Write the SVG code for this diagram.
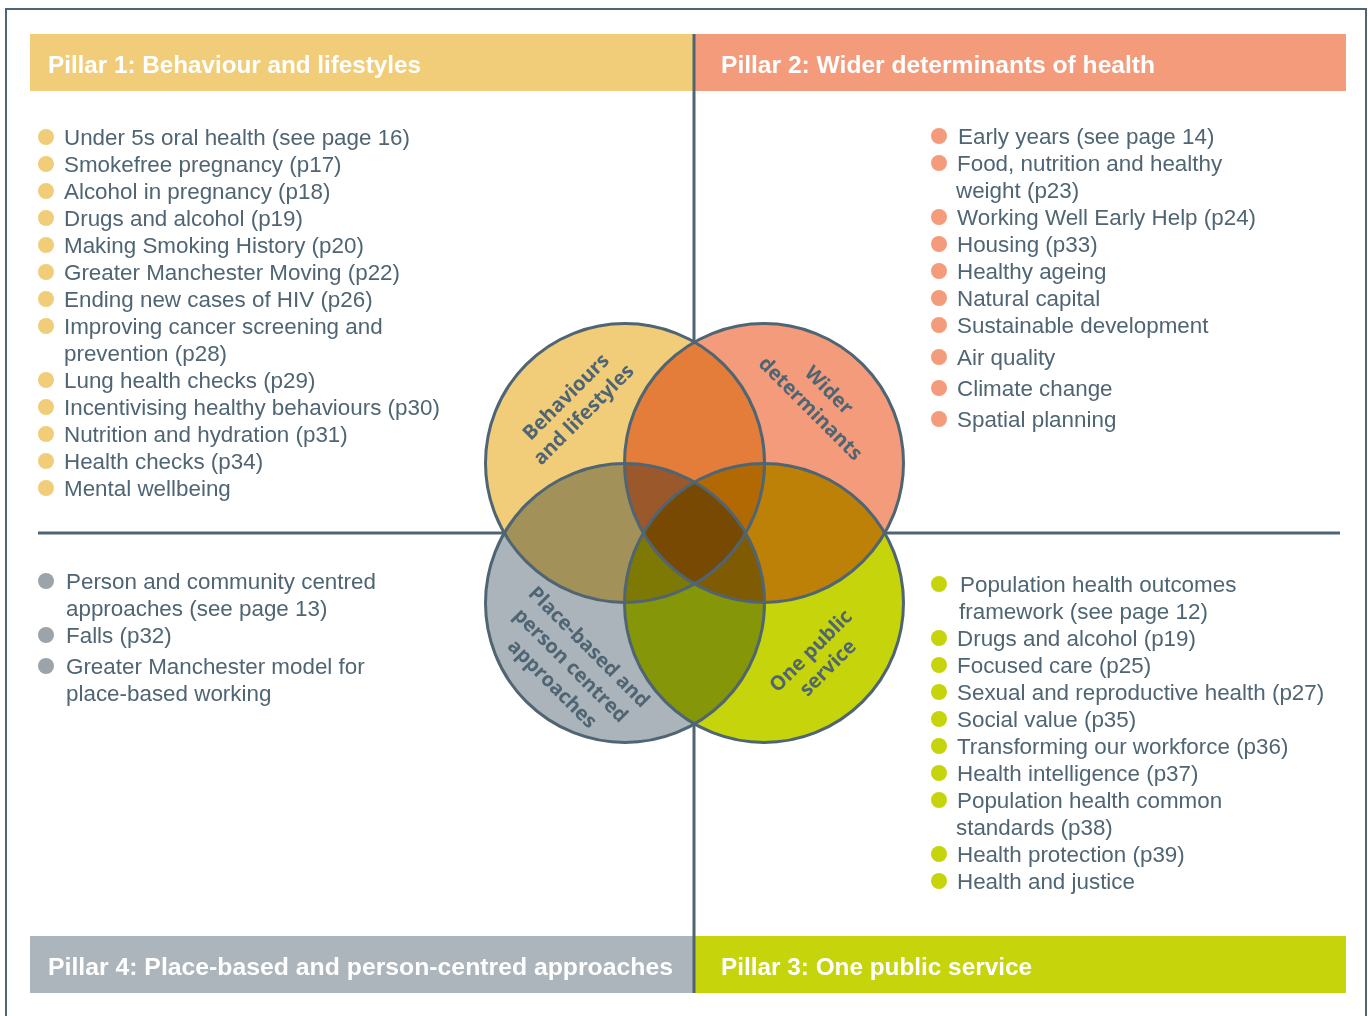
<svg xmlns="http://www.w3.org/2000/svg" width="1368" height="1016" viewBox="0 0 1368 1016">
<style>
.hdr{font-family:"Liberation Sans",Arial,sans-serif;font-weight:bold;font-size:24.3px;fill:#ffffff}
.item{font-family:"Liberation Sans",Arial,sans-serif;font-size:22.4px;fill:#4F6573}
.lbl{font-family:"Open Sans","Liberation Sans",sans-serif;font-weight:700;font-size:20px;fill:#4F6573;text-anchor:middle}
.line{stroke:#4F6573;stroke-width:3;fill:none}
.ring{stroke:#4F6573;stroke-width:3;fill:none}
.blend{mix-blend-mode:multiply}
.by{fill:#F1CD79}.bp{fill:#F39B7A}.bg{fill:#9BA3AB}.bl{fill:#C6D40B}
</style>
<rect x="0" y="0" width="1368" height="1016" fill="#ffffff"/>
<rect x="6" y="9" width="1360" height="1020" fill="none" stroke="#4F6573" stroke-width="2"/>

<g id="pillar1-header">
<rect x="30" y="34" width="664" height="57" fill="#F1CD79"/>
<text class="hdr" x="48" y="73" textLength="373" lengthAdjust="spacingAndGlyphs">Pillar 1: Behaviour and lifestyles</text>
</g>
<g id="pillar2-header">
<rect x="694" y="34" width="652" height="57" fill="#F39B7A"/>
<text class="hdr" x="721" y="73" textLength="434" lengthAdjust="spacingAndGlyphs">Pillar 2: Wider determinants of health</text>
</g>
<g id="pillar4-header">
<rect x="30" y="936" width="664" height="57" fill="#ADB5BC"/>
<text class="hdr" x="48" y="975" textLength="625" lengthAdjust="spacingAndGlyphs">Pillar 4: Place-based and person-centred approaches</text>
</g>
<g id="pillar3-header">
<rect x="694" y="936" width="652" height="57" fill="#C6D40B"/>
<text class="hdr" x="721" y="975" textLength="311" lengthAdjust="spacingAndGlyphs">Pillar 3: One public service</text>
</g>

<g id="connectors">
<line class="line" x1="694" y1="34" x2="694" y2="993"/>
<line class="line" x1="38" y1="533" x2="1340" y2="533"/>
</g>

<g id="pillar1-list">
<circle class="by" cx="46" cy="137" r="8"/><text class="item" x="64" y="145">Under 5s oral health (see page 16)</text>
<circle class="by" cx="46" cy="164" r="8"/><text class="item" x="64" y="172">Smokefree pregnancy (p17)</text>
<circle class="by" cx="46" cy="191" r="8"/><text class="item" x="64" y="199">Alcohol in pregnancy (p18)</text>
<circle class="by" cx="46" cy="218" r="8"/><text class="item" x="64" y="226">Drugs and alcohol (p19)</text>
<circle class="by" cx="46" cy="245" r="8"/><text class="item" x="64" y="253">Making Smoking History (p20)</text>
<circle class="by" cx="46" cy="272" r="8"/><text class="item" x="64" y="280">Greater Manchester Moving (p22)</text>
<circle class="by" cx="46" cy="299" r="8"/><text class="item" x="64" y="307">Ending new cases of HIV (p26)</text>
<circle class="by" cx="46" cy="326" r="8"/><text class="item" x="64" y="334">Improving cancer screening and</text>
<text class="item" x="64" y="361">prevention (p28)</text>
<circle class="by" cx="46" cy="380" r="8"/><text class="item" x="64" y="388">Lung health checks (p29)</text>
<circle class="by" cx="46" cy="407" r="8"/><text class="item" x="64" y="415">Incentivising healthy behaviours (p30)</text>
<circle class="by" cx="46" cy="434" r="8"/><text class="item" x="64" y="442">Nutrition and hydration (p31)</text>
<circle class="by" cx="46" cy="461" r="8"/><text class="item" x="64" y="469">Health checks (p34)</text>
<circle class="by" cx="46" cy="488" r="8"/><text class="item" x="64" y="496">Mental wellbeing</text>
</g>

<g id="pillar2-list">
<circle class="bp" cx="939" cy="136" r="8"/><text class="item" x="958" y="144">Early years (see page 14)</text>
<circle class="bp" cx="939" cy="163" r="8"/><text class="item" x="957" y="171">Food, nutrition and healthy</text>
<text class="item" x="956" y="198">weight (p23)</text>
<circle class="bp" cx="939" cy="217" r="8"/><text class="item" x="957" y="225">Working Well Early Help (p24)</text>
<circle class="bp" cx="939" cy="244" r="8"/><text class="item" x="957" y="252">Housing (p33)</text>
<circle class="bp" cx="939" cy="271" r="8"/><text class="item" x="957" y="279">Healthy ageing</text>
<circle class="bp" cx="939" cy="298" r="8"/><text class="item" x="957" y="306">Natural capital</text>
<circle class="bp" cx="939" cy="325" r="8"/><text class="item" x="957" y="333">Sustainable development</text>
<circle class="bp" cx="939" cy="357" r="8"/><text class="item" x="957" y="365">Air quality</text>
<circle class="bp" cx="939" cy="388" r="8"/><text class="item" x="957" y="396">Climate change</text>
<circle class="bp" cx="939" cy="419" r="8"/><text class="item" x="957" y="427">Spatial planning</text>
</g>

<g id="pillar4-list">
<circle class="bg" cx="46" cy="581" r="8"/><text class="item" x="66" y="589">Person and community centred</text>
<text class="item" x="66" y="616">approaches (see page 13)</text>
<circle class="bg" cx="46" cy="635" r="8"/><text class="item" x="66" y="643">Falls (p32)</text>
<circle class="bg" cx="46" cy="666" r="8"/><text class="item" x="66" y="674">Greater Manchester model for</text>
<text class="item" x="66" y="701">place-based working</text>
</g>

<g id="pillar3-list">
<circle class="bl" cx="939" cy="584" r="8"/><text class="item" x="960" y="592">Population health outcomes</text>
<text class="item" x="959" y="619">framework (see page 12)</text>
<circle class="bl" cx="939" cy="638" r="8"/><text class="item" x="957" y="646">Drugs and alcohol (p19)</text>
<circle class="bl" cx="939" cy="665" r="8"/><text class="item" x="957" y="673">Focused care (p25)</text>
<circle class="bl" cx="939" cy="692" r="8"/><text class="item" x="957" y="700">Sexual and reproductive health (p27)</text>
<circle class="bl" cx="939" cy="719" r="8"/><text class="item" x="957" y="727">Social value (p35)</text>
<circle class="bl" cx="939" cy="746" r="8"/><text class="item" x="957" y="754">Transforming our workforce (p36)</text>
<circle class="bl" cx="939" cy="773" r="8"/><text class="item" x="957" y="781">Health intelligence (p37)</text>
<circle class="bl" cx="939" cy="800" r="8"/><text class="item" x="957" y="808">Population health common</text>
<text class="item" x="956" y="835">standards (p38)</text>
<circle class="bl" cx="939" cy="854" r="8"/><text class="item" x="957" y="862">Health protection (p39)</text>
<circle class="bl" cx="939" cy="881" r="8"/><text class="item" x="957" y="889">Health and justice</text>
</g>

<g id="venn">
<g id="venn-fills" style="isolation:isolate">
<circle class="blend" cx="625" cy="463" r="139.5" fill="#F1CD79"/>
<circle class="blend" cx="764" cy="463" r="139.5" fill="#F39B7A"/>
<circle class="blend" cx="625" cy="603" r="139.5" fill="#ACB4BB"/>
<circle class="blend" cx="764" cy="603" r="139.5" fill="#C6D40B"/>
</g>
<g id="venn-outlines">
<circle class="ring" cx="625" cy="463" r="139.5"/>
<circle class="ring" cx="764" cy="463" r="139.5"/>
<circle class="ring" cx="625" cy="603" r="139.5"/>
<circle class="ring" cx="764" cy="603" r="139.5"/>
</g>
<g id="circle-behaviours" transform="translate(574,405) rotate(-45)">
<text class="lbl" x="0" y="-5">Behaviours</text>
<text class="lbl" x="0" y="20">and lifestyles</text>
</g>
<g id="circle-wider" transform="translate(820,399) rotate(45)">
<text class="lbl" x="0" y="-6">Wider</text>
<text class="lbl" x="0" y="20">determinants</text>
</g>
<g id="circle-place" transform="translate(571,665) rotate(45)">
<text class="lbl" x="0" y="-19">Place-based and</text>
<text class="lbl" x="0" y="7">person centred</text>
<text class="lbl" x="0" y="33">approaches</text>
</g>
<g id="circle-public" transform="translate(819,659) rotate(-45)">
<text class="lbl" x="0" y="-5">One public</text>
<text class="lbl" x="0" y="19">service</text>
</g>
</g>
</svg>
